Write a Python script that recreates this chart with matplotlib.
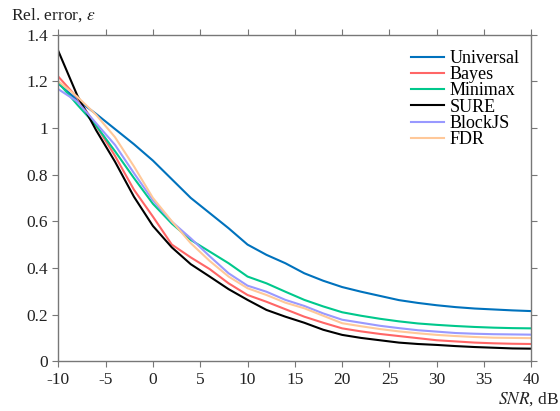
import numpy as np
import matplotlib
matplotlib.use("Agg")
import matplotlib.pyplot as plt
from matplotlib.ticker import FuncFormatter

plt.rcParams['font.family'] = ['Liberation Serif', 'DejaVu Serif']
plt.rcParams['mathtext.fontset'] = 'stix'

snr = list(range(-10, 41, 2))

universal = [1.19, 1.12, 1.06, 0.995, 0.93, 0.86, 0.78, 0.70, 0.635, 0.57, 0.50, 0.456, 0.42,
             0.377, 0.345, 0.318, 0.298, 0.28, 0.262, 0.25, 0.24, 0.232, 0.226, 0.222, 0.218, 0.215]
bayes = [1.22, 1.13, 1.01, 0.88, 0.735, 0.62, 0.50, 0.445, 0.395, 0.334, 0.284, 0.255, 0.223,
         0.191, 0.165, 0.141, 0.128, 0.117, 0.108, 0.099, 0.09, 0.085, 0.08, 0.077, 0.075, 0.074]
minimax = [1.195, 1.10, 1.01, 0.90, 0.785, 0.675, 0.59, 0.52, 0.47, 0.42, 0.363, 0.334, 0.298,
           0.263, 0.235, 0.21, 0.195, 0.182, 0.171, 0.162, 0.156, 0.151, 0.147, 0.144, 0.142, 0.141]
sure = [1.33, 1.14, 0.99, 0.855, 0.705, 0.58, 0.488, 0.416, 0.363, 0.309, 0.263, 0.22, 0.191,
        0.165, 0.135, 0.113, 0.1, 0.09, 0.08, 0.074, 0.07, 0.065, 0.061, 0.058, 0.055, 0.054]
blockjs = [1.166, 1.113, 1.02, 0.927, 0.806, 0.69, 0.598, 0.527, 0.45, 0.377, 0.324, 0.298, 0.263,
           0.237, 0.205, 0.178, 0.165, 0.152, 0.142, 0.133, 0.127, 0.121, 0.118, 0.116, 0.115, 0.114]
fdr = [1.2, 1.134, 1.056, 0.96, 0.835, 0.70, 0.6, 0.506, 0.43, 0.363, 0.313, 0.284, 0.251,
       0.227, 0.195, 0.163, 0.15, 0.138, 0.128, 0.12, 0.113, 0.108, 0.104, 0.101, 0.1, 0.099]

names = ["Universal", "Bayes", "Minimax", "SURE", "BlockJS", "FDR"]
colors = ["#0072BD", "#FF6666", "#00C88C", "#000000", "#9999FF", "#FFC899"]
series = [universal, bayes, minimax, sure, blockjs, fdr]

fig = plt.figure(figsize=(5.6, 4.11), dpi=100)
ax = fig.add_axes([0.104, 0.121, 0.845, 0.795])

for name, col, vals in zip(names, colors, series):
    ax.plot(snr, vals, color=col, lw=1.5, label=name)

ax.set_xlim(-10, 40)
ax.set_ylim(0, 1.4)
ax.set_xticks(np.arange(-10, 41, 5))
ax.set_yticks(np.arange(0, 1.41, 0.2))
fmt = FuncFormatter(lambda v, p: "%g" % round(v, 2))
ax.xaxis.set_major_formatter(fmt)
ax.yaxis.set_major_formatter(fmt)
ax.tick_params(direction='out', length=4, width=0.8, color='#777777',
               labelsize=12.5, labelcolor='#222222', top=True, right=True)
for s in ax.spines.values():
    s.set_color('#777777')
    s.set_linewidth(1.0)

fig.text(0.02, 0.963, r"Rel. error, $\varepsilon$", fontsize=12.5, color='#222222',
         va='center', ha='left')
fig.text(0.998, 0.03, r"$SNR$, dB", fontsize=12.5, color='#222222',
         va='center', ha='right')

leg = ax.legend(loc='upper right', bbox_to_anchor=(0.99, 0.975), frameon=False,
                fontsize=13, handlelength=1.85, handletextpad=0.3, labelspacing=-0.04,
                borderaxespad=0)

fig.savefig("out.png", dpi=100)
